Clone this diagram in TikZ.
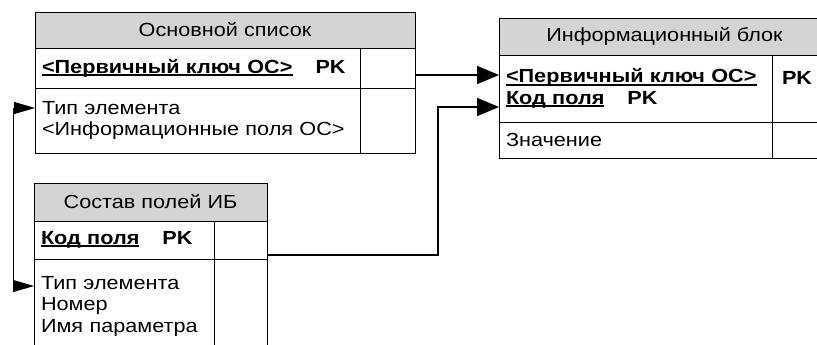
\documentclass[tikz,border=0pt]{standalone}
\usepackage{fontspec}
\setmainfont{Liberation Sans}[FakeStretch=1.14]
\usetikzlibrary{positioning,arrows.meta}
\definecolor{headgray}{RGB}{212,212,212}
\tikzset{
  cell/.style={draw, line width=0.9pt, inner xsep=7pt, inner ysep=0pt, outer sep=0pt,
    align=left, anchor=north west, font=\fontsize{19}{21.5}\selectfont},
  head/.style={cell, fill=headgray, align=center},
  link/.style={line width=2pt, -{Triangle[length=22pt,width=18pt]}},
  back/.style={line width=0.9pt, {Triangle[length=21pt,width=12pt]}-{Triangle[length=21pt,width=12pt]}},
}
\newsavebox{\keybox}
\newcommand{\keyf}[1]{\leavevmode\sbox{\keybox}{\textbf{#1}}\rlap{\rule[-2.6pt]{\wd\keybox}{1.8pt}}\usebox{\keybox}}
\newcommand{\pk}{\hspace{23pt}\textbf{PK}}
\begin{document}
\begin{tikzpicture}[x=1pt,y=-1pt]
\clip (0,0) rectangle (817,345);
% Основной список
\node[head, minimum width=380pt, minimum height=36pt] (osnhead) at (35,12) {Основной список};
\node[cell, text width=311pt, minimum height=40pt] (osnkey) at (osnhead.south west) {\keyf{<Первичный ключ ОС>}\pk};
\node[cell, text width=41pt, minimum height=40pt] (osnkeyside) at (osnkey.north east) {};
\node[cell, text width=311pt, minimum height=65pt] (osnbody) at (osnkey.south west) {Тип элемента\\<Информационные поля ОС>};
\node[cell, text width=41pt, minimum height=65pt] (osnbodyside) at (osnbody.north east) {};
% Информационный блок
\node[head, minimum width=331pt, minimum height=37pt] (infohead) at (499,18) {Информационный блок};
\node[cell, text width=259pt, minimum height=67pt] (infokey) at (infohead.south west) {\keyf{<Первичный ключ ОС>}\\\keyf{Код поля}\pk};
\node[cell, text width=44pt, minimum height=67pt] (infokeyside) at (infokey.north east) {\hspace{3pt}\textbf{PK}\\\mbox{}};
\node[cell, text width=259pt, minimum height=36pt] (infobody) at (infokey.south west) {Значение};
\node[cell, text width=44pt, minimum height=36pt] (infobodyside) at (infobody.north east) {};
% Состав полей ИБ
\node[head, minimum width=233pt, minimum height=38pt] (sosthead) at (34,183) {Состав полей ИБ};
\node[cell, text width=166pt, minimum height=38pt] (sostkey) at (sosthead.south west) {\keyf{Код поля}\pk};
\node[cell, text width=39pt, minimum height=38pt] (sostkeyside) at (sostkey.north east) {};
\node[cell, text width=166pt, minimum height=94pt] (sostbody) at (sostkey.south west) {Тип элемента\\Номер\\Имя параметра};
\node[cell, text width=39pt, minimum height=94pt] (sostbodyside) at (sostbody.north east) {};
% связи
\coordinate (k1) at ([yshift=-7pt]osnkeyside.east);
\draw[link] (k1) -- (k1 -| infokey.west);
\coordinate (k2) at ([yshift=-15pt]sostkeyside.east);
\coordinate (k3) at ([yshift=-18.5pt]infokey.west);
\draw[link] (k2) -| ([xshift=-61pt]k3) -- (k3);
\coordinate (t1) at ([yshift=12.5pt]osnbody.west);
\coordinate (t2) at ([yshift=20pt]sostbody.west);
\draw[back] (t1) -- ([xshift=-22pt]t1) |- (t2);
\end{tikzpicture}
\end{document}
